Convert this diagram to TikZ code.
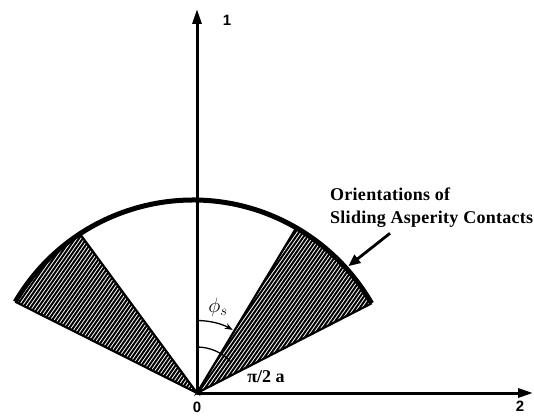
\documentclass[tikz,border=0pt]{standalone}
\usepackage{fontspec}
\setmainfont{Liberation Serif}
\setsansfont{Liberation Sans}
\usetikzlibrary{arrows.meta,calc}

\begin{document}
\begin{tikzpicture}[x=1pt,y=1pt,
    eje/.style={line width=3pt, -{Triangle[length=15pt,width=9pt]}},
    rayado/.style={line width=2pt},
    borde/.style={line width=2.2pt},
    numeje/.style={font=\sffamily\bfseries\fontsize{15}{15}\selectfont, inner sep=0pt},
    etiqueta/.style={font=\bfseries\fontsize{18}{18}\selectfont\addfontfeatures{LetterSpace=1.5}, inner sep=0pt, anchor=base west},
    ]
    \useasboundingbox (-197,-23) rectangle (337,393);

    % Puntos del abanico
        \coordinate (O) at (0,0);
        \coordinate (C) at (-4,-13);
        \coordinate (LO) at ($(C)+(149.6:206)$);
        \coordinate (LI) at ($(C)+(123.3:206)$);
        \coordinate (RI) at ($(C)+(59.9:206)$);
        \coordinate (RO) at ($(C)+(29.9:206)$);

    % Sectores rayados
        \begin{scope}
            \clip (O) -- (RO) arc[start angle=29.9, end angle=59.9, radius=206] -- cycle
                  (O) -- (LI) arc[start angle=123.3, end angle=149.6, radius=206] -- cycle;
            \foreach \d in {-272,-268.9,...,152}
                \draw[rayado] ({0.819*\d-68.9},{-0.574*\d-98.3}) -- ++(55:400);
        \end{scope}
        \draw[borde] (LO) -- (O) -- (LI);
        \draw[borde] (RI) -- (O) -- (RO);

    % Arco exterior
        \draw[line width=5pt] (LO) arc[start angle=149.6, end angle=29.9, radius=206];

    % Ejes
        \coordinate (E1) at (0,384);
        \coordinate (E2) at (336,0);
        \draw[eje] (O) -- (E1);
        \draw[eje] (O) -- (E2);
        \node[numeje] (n0) at (0,-14) {0};
        \node[numeje] (n1) at (30,373) {1};
        \node[numeje] (n2) at (323,-13) {2};

    % Angulos
        \coordinate (A1) at (90:72.5);
        \coordinate (A2) at (90:46);
        \draw[line width=1.3pt, -{Stealth[length=8pt,width=6pt]}] (A1) arc[start angle=90, end angle=60.5, radius=72.5];
        \draw[line width=1.3pt] (A2) arc[start angle=90, end angle=43, radius=46];
        \node[font=\fontsize{22}{22}\selectfont] (phis) at (21,86) {$\phi_s$};
        \node[font=\bfseries\fontsize{18}{18}\selectfont] (pia) at (69,16) {π/2 a};

    % Orientaciones
        \node[etiqueta] (or1) at (133,192.3) {Orientations of};
        \node[etiqueta] (or2) at (133,169.7) {Sliding Asperity Contacts};
        \coordinate (F1) at (193,159.7);
        \coordinate (F2) at ($(C)+(42:209)$);
        \draw[line width=2.8pt, -{Triangle[length=12pt,width=10pt]}] (F1) -- (F2);

\end{tikzpicture}
\end{document}
